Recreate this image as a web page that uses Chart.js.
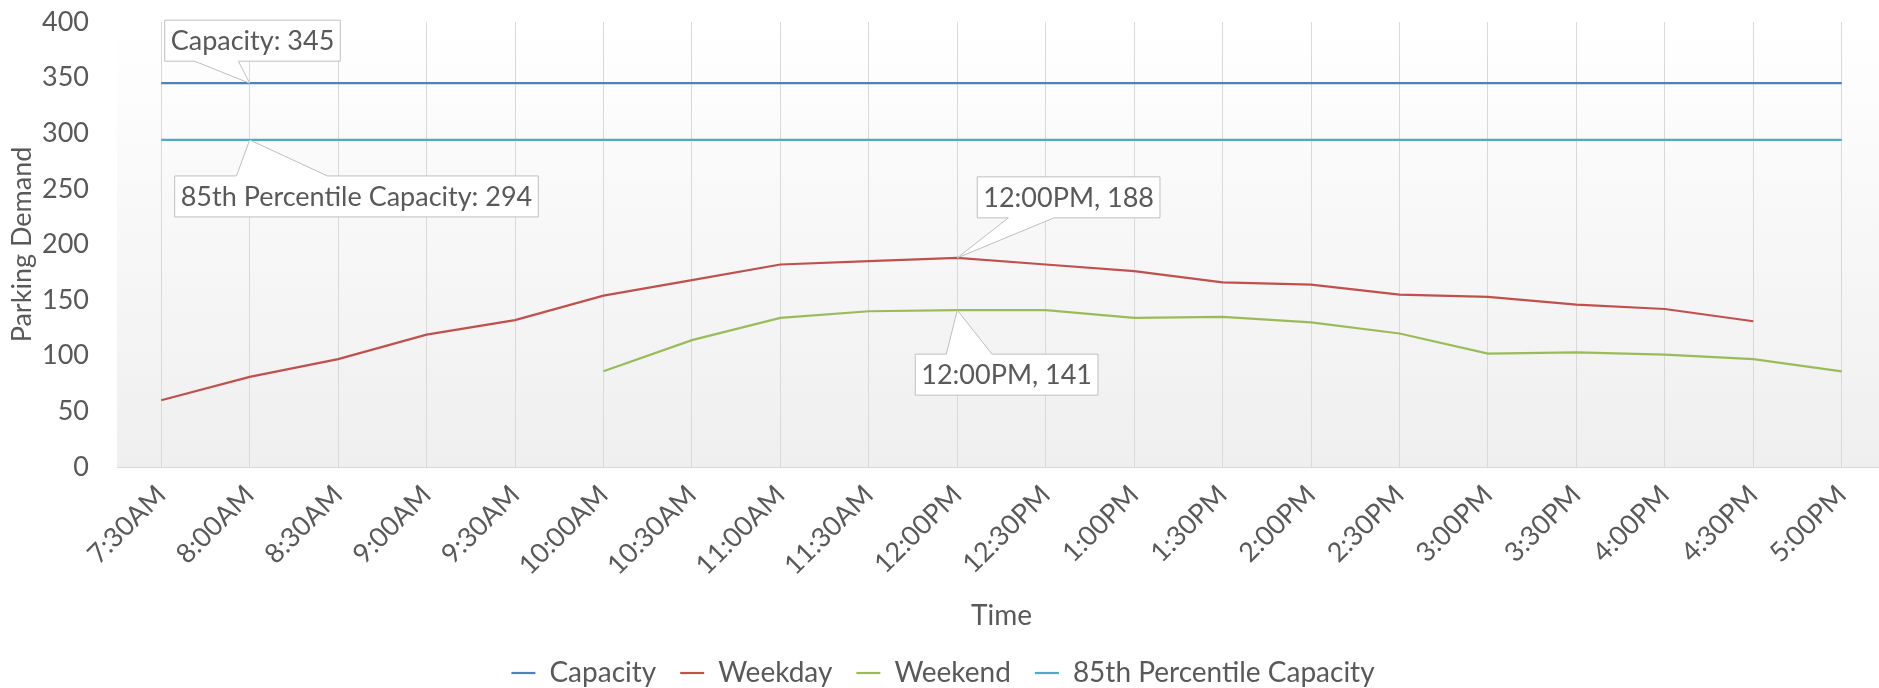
<!DOCTYPE html>
<html>
<head>
<meta charset="utf-8">
<script src="https://cdn.jsdelivr.net/npm/chart.js@4.4.1/dist/chart.umd.min.js"></script>
<style>
  html, body { margin: 0; padding: 0; background: #fff; overflow: hidden; }
  #wrap { width: 1886px; height: 697px; position: relative; }
</style>
</head>
<body>
<div id="wrap"><canvas id="chart"></canvas></div>
<script>
// categories (x axis)
const timeLabels = ['7:30AM', '8:00AM', '8:30AM', '9:00AM', '9:30AM', '10:00AM', '10:30AM', '11:00AM', '11:30AM', '12:00PM',
    '12:30PM', '1:00PM', '1:30PM', '2:00PM', '2:30PM', '3:00PM', '3:30PM', '4:00PM', '4:30PM', '5:00PM'];

// series
const capacity = [345, 345, 345, 345, 345, 345, 345, 345, 345, 345, 345, 345, 345, 345, 345, 345, 345, 345, 345, 345];
const weekday = [60, 81, 97, 119, 132, 154, 168, 182, 185, 188, 182, 176, 166, 164, 155, 153, 146, 142, 131, null];
const weekend = [null, null, null, null, null, 86, 114, 134, 140, 141, 141, 134, 135, 130, 120, 102, 103, 101, 97, 86];
const pct85Capacity = [294, 294, 294, 294, 294, 294, 294, 294, 294, 294, 294, 294, 294, 294, 294, 294, 294, 294, 294, 294];

const yTicks = [0, 50, 100, 150, 200, 250, 300, 350, 400];

const TEXT = '#595959';
const FONT = 'Lato, "Open Sans", sans-serif';

Chart.defaults.font.family = FONT;
Chart.defaults.font.size = 27;
Chart.defaults.color = TEXT;

// fondo del area de grafico (degradado blanco -> gris claro)
const plotBackground = {
    id: 'plotBackground',
    beforeDraw(chart) {
        const { ctx, chartArea: a } = chart;
        const g = ctx.createLinearGradient(0, a.top, 0, a.bottom);
        g.addColorStop(0, '#ffffff');
        g.addColorStop(1, '#efefef');
        ctx.save();
        ctx.fillStyle = g;
        ctx.fillRect(a.left, a.top, a.right - a.left, a.bottom - a.top);
        ctx.restore();
    }
};

// etiquetas tipo "callout" de Excel
const callouts = {
    id: 'callouts',
    afterDatasetsDraw(chart, args, opts) {
        const { ctx } = chart;
        ctx.save();
        ctx.font = `27px ${FONT}`;
        opts.items.forEach(item => {
            const ds = chart.data.datasets[item.dataset];
            const pt = chart.getDatasetMeta(item.dataset).data[item.index];
            const value = ds.data[item.index];
            const text = item.useCategory
                ? `${chart.data.labels[item.index]}, ${value}`
                : `${ds.label}: ${value}`;
            const w = ctx.measureText(text).width + 12;
            const h = 41;
            const L = pt.x + item.dx;
            const R = L + w;
            let T, B;
            if (item.above) { B = pt.y - item.gap; T = B - h; }
            else { T = pt.y + item.gap; B = T + h; }
            const b1 = L + w * 0.17, b2 = L + w * 0.42;

            ctx.beginPath();
            if (item.above) {
                ctx.moveTo(L, T); ctx.lineTo(R, T); ctx.lineTo(R, B);
                ctx.lineTo(b2, B); ctx.lineTo(pt.x, pt.y); ctx.lineTo(b1, B);
                ctx.lineTo(L, B);
            } else {
                ctx.moveTo(L, T); ctx.lineTo(b1, T); ctx.lineTo(pt.x, pt.y);
                ctx.lineTo(b2, T); ctx.lineTo(R, T); ctx.lineTo(R, B);
                ctx.lineTo(L, B);
            }
            ctx.closePath();
            ctx.fillStyle = '#ffffff';
            ctx.fill();
            ctx.strokeStyle = '#bfbfbf';
            ctx.lineWidth = 1;
            ctx.stroke();

            ctx.fillStyle = TEXT;
            ctx.textAlign = 'center';
            ctx.textBaseline = 'middle';
            ctx.fillText(text, L + w / 2, (T + B) / 2 + 1);
        });
        ctx.restore();
    }
};

const line = (label, data, color) => ({
    label, data,
    borderColor: color,
    backgroundColor: color,
    borderWidth: 2.2,
    pointRadius: 0,
    tension: 0,
    spanGaps: false
});

new Chart(document.getElementById('chart'), {
    type: 'line',
    data: {
        labels: timeLabels,
        datasets: [
            line('Capacity', capacity, '#4F81BD'),
            line('Weekday', weekday, '#C0504D'),
            line('Weekend', weekend, '#9BBB59'),
            line('85th Percentile Capacity', pct85Capacity, '#4BACC6')
        ]
    },
    options: {
        responsive: true,
        maintainAspectRatio: false,
        animation: false,
        layout: { padding: { top: 22, right: 0, bottom: 0, left: 0 } },
        scales: {
            x: {
                offset: true,
                grid: { offset: false, color: '#d9d9d9', lineWidth: 1, drawTicks: false },
                border: { display: true, color: '#d9d9d9', width: 1 },
                ticks: { maxRotation: 45, minRotation: 45, autoSkip: false, padding: 12, color: TEXT, font: { size: 27 } },
                title: { display: true, text: 'Time', color: TEXT, font: { size: 28 }, padding: { top: 0, bottom: 2 } },
                afterFit(scale) { scale.height = 168; }
            },
            y: {
                min: 0, max: 400,
                afterBuildTicks(scale) { scale.ticks = yTicks.map(v => ({ value: v })); },
                // marcas invisibles: solo dejan el hueco entre numeros y area de grafico
                grid: { drawOnChartArea: false, drawTicks: true, tickLength: 28, color: 'rgba(0,0,0,0)' },
                border: { display: false },
                ticks: { padding: 0, color: TEXT, font: { size: 27 } },
                title: { display: true, text: 'Parking Demand', color: TEXT, font: { size: 27 }, padding: { top: 6, bottom: 0 } },
                afterFit(scale) { scale.width = 117; }
            }
        },
        plugins: {
            tooltip: { enabled: false },
            legend: {
                position: 'bottom',
                labels: {
                    usePointStyle: true,
                    pointStyle: 'line',
                    pointStyleWidth: 24,
                    padding: 24,
                    color: TEXT,
                    font: { size: 28 }
                }
            },
            callouts: {
                items: [
                    { dataset: 0, index: 1, dx: -85, gap: 22, above: true },
                    { dataset: 3, index: 1, dx: -75, gap: 36, above: false },
                    { dataset: 1, index: 9, dx: 20, gap: 40, above: true, useCategory: true },
                    { dataset: 2, index: 9, dx: -42, gap: 44, above: false, useCategory: true }
                ]
            }
        }
    },
    plugins: [plotBackground, callouts]
});
</script>
</body>
</html>
